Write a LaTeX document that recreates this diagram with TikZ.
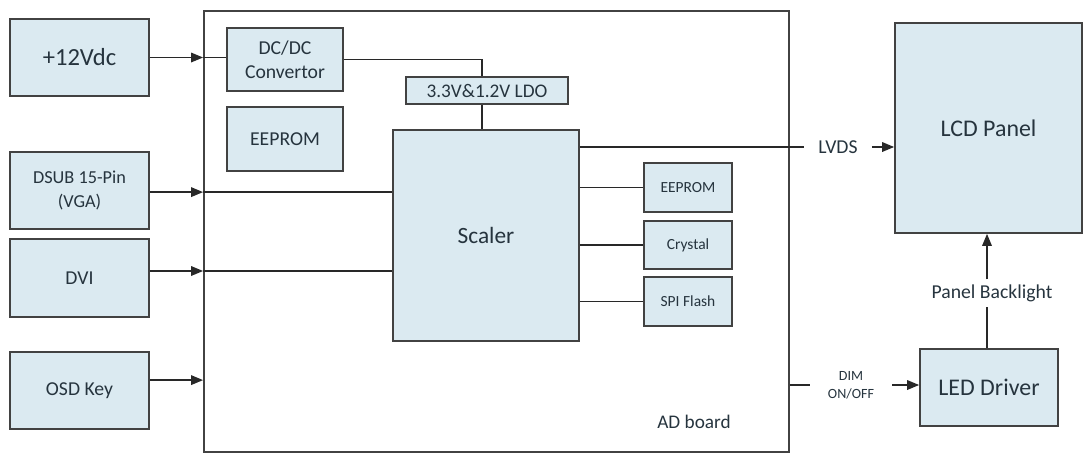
\documentclass[tikz,border=0pt]{standalone}
\usepackage{fontspec}
\setmainfont{Carlito}
\usetikzlibrary{positioning,arrows.meta,calc}
\definecolor{BoxFill}{RGB}{219,234,241}
\definecolor{BoxLine}{RGB}{66,66,66}
\definecolor{BoxText}{RGB}{38,52,62}
\definecolor{WireGray}{RGB}{40,40,40}
\tikzset{
  flow/.style={-{Triangle[length=3mm,width=2.4mm]},line width=1pt,draw=WireGray},
  wire/.style={line width=1pt,draw=WireGray},
  blk/.style={draw=BoxLine,fill=BoxFill,line width=1.2pt,align=center,
    text=BoxText,inner sep=0pt},
  bigtxt/.style={font=\fontsize{17}{19}\selectfont},
  midtxt/.style={font=\fontsize{14}{17}\selectfont},
  smalltxt/.style={font=\fontsize{11}{13}\selectfont},
  tag/.style={text=BoxText,align=center,inner ysep=0pt}
}
\begin{document}
\begin{tikzpicture}[x=0.025cm,y=-0.025cm]
  \useasboundingbox (0,0) rectangle (1089,456);
  \node[draw=BoxLine,line width=1.2pt,minimum width=14.625cm,minimum height=11.025cm,inner sep=0pt] (board) at (496.5,231.5) {};
  \node[tag,font=\fontsize{13.7}{15}\selectfont] (adlabel) at (694,422) {AD board};
  \node[blk,font=\fontsize{17.5}{19}\selectfont,minimum width=3.475cm,minimum height=1.925cm] (v12) at (79.5,57.5) {+12Vdc};
  \node[blk,font=\fontsize{13}{17}\selectfont,minimum width=3.475cm,minimum height=1.925cm] (dsub) at (79.5,190.5) {DSUB 15-Pin\\(VGA)};
  \node[blk,midtxt,minimum width=3.475cm,minimum height=1.95cm] (dvi) at (79.5,278) {DVI};
  \node[blk,midtxt,minimum width=3.475cm,minimum height=1.925cm] (osd) at (79.5,390.5) {OSD Key};
  \node[blk,midtxt,minimum width=2.9cm,minimum height=1.575cm] (dcdc) at (285,59.5) {DC/DC\\Convertor};
  \node[blk,midtxt,minimum width=2.9cm,minimum height=1.6cm] (eeprom) at (285,139) {EEPROM};
  \node[blk,font=\fontsize{13.7}{15}\selectfont,minimum width=4.05cm,minimum height=0.675cm] (ldo) at (487,90.5) {3.3V\&1.2V LDO};
  \node[blk,font=\fontsize{16.6}{18}\selectfont,minimum width=4.65cm,minimum height=5.275cm] (scaler) at (486,235.5) {Scaler};
  \node[blk,smalltxt,minimum width=2.2cm,minimum height=1.225cm] (eepromb) at (688,187.5) {EEPROM};
  \node[blk,smalltxt,minimum width=2.2cm,minimum height=1.2cm] (crystal) at (688,245) {Crystal};
  \node[blk,smalltxt,minimum width=2.2cm,minimum height=1.225cm] (spiflash) at (688,301.5) {SPI Flash};
  \node[blk,bigtxt,minimum width=4.675cm,minimum height=5.25cm] (lcd) at (988.5,128) {LCD Panel};
  \node[blk,bigtxt,minimum width=3.45cm,minimum height=1.925cm] (leddrv) at (989,387.5) {LED Driver};
  \node[tag,font=\fontsize{14}{16}\selectfont,inner xsep=0.35cm] (lvds) at (838,147) {LVDS};
  \node[tag,font=\fontsize{10}{12.5}\selectfont,inner xsep=0.45cm] (dim) at (851,385) {DIM\\ON/OFF};
  \node[tag,font=\fontsize{14}{16}\selectfont,inner ysep=0.12cm] (backlight) at (992,293) {Panel Backlight};
  \draw[flow] (v12.east) -- (v12.east -| board.west);
  \draw[wire] (v12.east -| board.west) -- (v12.east -| dcdc.west);
  \draw[flow] ([yshift=-0.04cm]dsub.east) -- ([yshift=-0.04cm]dsub.east -| board.west);
  \draw[wire] ([yshift=-0.04cm]dsub.east -| board.west) -- ([yshift=-0.04cm]dsub.east -| scaler.west);
  \draw[flow] ([yshift=0.175cm]dvi.east) -- ([yshift=0.175cm]dvi.east -| board.west);
  \draw[wire] ([yshift=0.175cm]dvi.east -| board.west) -- ([yshift=0.175cm]dvi.east -| scaler.west);
  \draw[flow] ([yshift=0.26cm]osd.east) -- ([yshift=0.26cm]osd.east -| board.west);
  \draw[wire] (dcdc.east) -| ([xshift=-0.125cm]ldo.north);
  \draw[wire] ([xshift=-0.125cm]ldo.south) -- ([xshift=-0.125cm]ldo.south |- scaler.north);
  \draw[wire] (lvds.west -| scaler.east) -- (lvds.west);
  \draw[flow] (lvds.east) -- (lvds.east -| lcd.west);
  \draw[wire] (eepromb.west -| scaler.east) -- (eepromb.west);
  \draw[wire] (crystal.west -| scaler.east) -- (crystal.west);
  \draw[wire] (spiflash.west -| scaler.east) -- (spiflash.west);
  \draw[wire] (dim.west -| board.east) -- (dim.west);
  \draw[flow] (dim.east) -- (dim.east -| leddrv.west);
  \draw[wire] ([xshift=-0.05cm]leddrv.north) -- ([xshift=-0.05cm]leddrv.north |- backlight.south);
  \draw[flow] ([xshift=-0.05cm]leddrv.north |- backlight.north) -- ([xshift=-0.05cm]leddrv.north |- lcd.south);
\end{tikzpicture}
\end{document}
